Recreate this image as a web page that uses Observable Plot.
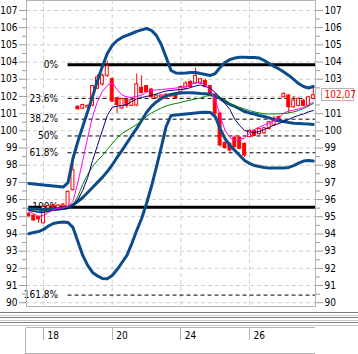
<!DOCTYPE html>
<html><head><meta charset="utf-8">
<script src="https://cdn.jsdelivr.net/npm/d3@7"></script>
<script src="https://cdn.jsdelivr.net/npm/@observablehq/plot@0.6"></script>
<style>
html,body{margin:0;padding:0;background:#fff;}
#chart svg{display:block;}
</style></head><body><div id="chart"></div>
<script>
// ---- data (bar index 0..58) ----
const open  = [95.18,95.07,95.00,94.62,95.48,95.65,95.50,95.60,95.60,96.55,101.40,101.28,101.35,101.47,102.45,102.70,103.20,103.00,101.90,101.30,101.80,101.45,101.47,102.50,102.60,102.40,101.90,101.95,101.87,102.00,102.10,102.25,102.45,102.85,102.75,102.75,102.90,102.60,102.10,101.00,99.30,99.25,99.60,99.60,99.24,99.63,100.00,99.80,99.85,100.10,100.30,100.80,101.95,102.05,101.37,101.45,101.75,101.45,101.86];
const high  = [95.22,95.10,95.02,95.60,95.70,95.72,95.72,95.78,96.50,98.05,101.45,101.55,101.50,102.65,103.25,103.30,104.05,103.10,101.95,101.90,101.85,101.85,103.30,103.20,102.65,102.45,102.10,102.10,102.15,102.15,102.15,102.60,102.85,102.90,103.65,103.05,103.00,102.65,102.20,101.10,99.35,99.30,99.70,99.65,99.30,100.05,100.05,100.15,100.20,100.55,100.85,100.85,102.20,102.10,102.00,101.90,101.80,102.00,102.54];
const low   = [94.98,94.75,94.62,94.58,95.45,95.42,95.45,95.55,95.55,96.50,101.20,101.25,101.30,101.40,102.40,102.60,103.10,101.65,101.00,101.25,101.30,101.40,101.40,102.15,102.20,101.90,101.85,101.90,101.85,101.95,101.85,102.20,102.40,102.50,102.70,102.70,102.50,102.00,100.80,99.05,98.90,98.75,99.00,98.90,98.45,99.60,99.65,99.75,99.80,100.05,100.25,100.45,101.90,101.00,101.30,101.40,101.40,101.40,101.80];
const close = [95.02,94.78,94.85,95.56,95.62,95.45,95.65,95.70,96.45,97.70,101.25,101.50,101.45,102.60,103.10,103.20,103.75,101.70,101.50,101.85,101.45,101.80,102.70,102.20,102.25,101.95,102.05,102.05,102.10,102.10,101.90,102.55,102.75,102.55,103.20,103.00,102.55,102.15,101.00,99.15,99.00,98.85,99.05,98.95,98.56,100.00,99.70,100.10,100.15,100.50,100.70,100.50,102.15,101.37,101.76,101.86,101.45,101.95,102.07];

const upperBand  = [96.94,96.91,96.88,96.85,96.82,96.79,96.76,96.73,96.99,98.39,99.38,100.25,101.12,102.00,102.93,103.74,104.50,104.96,105.25,105.43,105.55,105.66,105.78,105.87,105.95,105.84,105.55,105.02,104.27,103.51,103.36,103.35,103.36,103.39,103.39,103.33,103.28,103.22,103.33,103.68,103.97,104.15,104.23,104.28,104.28,104.27,104.27,104.23,104.09,103.92,103.74,103.60,103.42,103.22,102.99,102.75,102.58,102.49,102.58];
const middleBand = [95.46,95.45,95.44,95.42,95.42,95.44,95.46,95.49,95.54,95.69,95.89,96.12,96.41,96.70,97.00,97.29,97.63,98.01,98.45,98.86,99.29,99.73,100.14,100.60,101.07,101.42,101.68,101.88,102.03,102.11,102.17,102.20,102.21,102.21,102.20,102.17,102.15,102.11,102.03,101.88,101.68,101.53,101.42,101.27,101.12,101.04,100.98,100.89,100.83,100.75,100.66,100.60,100.54,100.48,100.44,100.43,100.41,100.40,100.37];
const lowerBand  = [94.01,94.09,94.14,94.26,94.46,94.61,94.67,94.70,94.67,94.38,93.56,92.75,92.17,91.76,91.56,91.41,91.39,91.58,91.93,92.34,92.75,93.44,94.20,94.90,95.77,96.76,97.87,99.03,100.25,100.89,100.92,100.95,100.98,101.01,101.04,101.07,101.08,101.07,100.83,100.13,99.55,99.15,98.86,98.56,98.27,98.10,97.98,97.92,97.87,97.83,97.83,97.83,97.84,97.87,97.98,98.12,98.24,98.27,98.24];
const maFast = [95.31,95.19,95.02,95.07,95.25,95.39,95.48,95.51,95.60,95.89,96.99,98.27,99.61,100.83,101.71,102.29,102.64,102.81,102.40,102.08,101.97,101.94,102.00,102.08,102.26,102.35,102.38,102.40,102.43,102.46,102.49,102.52,102.58,102.70,102.81,102.83,102.64,102.38,101.82,100.89,100.02,99.61,99.44,99.50,99.58,99.85,100.08,100.22,100.34,100.46,100.57,100.75,101.04,101.15,101.21,101.27,101.36,101.50,101.68];
const maMid  = [95.37,95.31,95.25,95.25,95.31,95.37,95.42,95.45,95.48,95.66,96.00,96.53,97.28,98.27,99.15,100.02,100.89,101.36,101.44,101.47,101.53,101.71,101.85,101.94,102.00,102.06,102.14,102.23,102.32,102.35,102.38,102.40,102.43,102.52,102.61,102.67,102.58,102.46,102.23,101.94,101.59,101.24,100.66,100.31,100.02,99.93,99.90,99.96,100.08,100.19,100.34,100.42,100.54,100.66,100.80,100.89,100.98,101.10,101.18];
const maSlow = [95.37,95.34,95.31,95.31,95.34,95.37,95.39,95.42,95.48,95.66,96.18,96.88,97.46,97.92,98.27,98.56,98.91,99.26,99.58,99.84,100.02,100.19,100.37,100.57,100.83,101.04,101.18,101.33,101.44,101.53,101.59,101.65,101.73,101.79,101.85,101.91,102.00,102.08,102.06,101.91,101.82,101.59,101.44,101.36,101.27,101.18,101.10,101.04,100.99,100.98,100.98,100.99,101.01,101.04,101.10,101.18,101.30,101.44,101.59];

const dateTickBars   = [3, 17, 31, 45];
const dateTickLabels = ["18", "20", "24", "26"];
const fibRatios = [0, 0.236, 0.382, 0.5, 0.618, 1, 1.618];
const fibLabels = ["0%", "23.6%", "38.2%", "50%", "61.8%", "100%", "161.8%"];
const fibHighPrice = 103.84, fibLowPrice = 95.56, fibStartBar = 8, fibBaseStartBar = 0;
const yTicks = d3.range(90, 108);
const yMinor = d3.range(90.5, 107.5, 1);
const lastPriceLabel = "102,07";

// ---- derived tables ----
const bars = open.map((o, i) => ({i, o, h: high[i], l: low[i], c: close[i], up: close[i] >= o}));
const series = arr => arr.map((v, i) => ({i, v}));
const fib = fibRatios.map((r, k) => ({
  price: fibHighPrice - r * (fibHighPrice - fibLowPrice),
  label: fibLabels[k],
  solid: r === 0 || r === 1,
  start: r === 1 ? fibBaseStartBar : fibStartBar
}));

const FONT = "'Liberation Sans Narrow','DejaVu Sans Condensed','Arial Narrow','Liberation Sans',sans-serif";
const RED = "#ff0000", BAND = "#0d4c8c";
const xDomain = [-0.47, 58.45];

const plot = Plot.plot({
  width: 358, height: 354,
  marginLeft: 26, marginRight: 43, marginTop: 0, marginBottom: 48,
  x: {domain: xDomain, axis: null, label: null},
  y: {domain: [89.78, 107.58], axis: null, label: null},
  style: {fontFamily: FONT, fontSize: "10px", background: "#fff", overflow: "visible"},
  marks: [
    Plot.gridY(yTicks, {stroke: "#cfcfcf", strokeOpacity: 1, strokeDasharray: "4,3"}),
    Plot.gridX(dateTickBars, {stroke: "#cfcfcf", strokeOpacity: 1, strokeDasharray: "4,3"}),
    // fibonacci
    Plot.ruleY(fib.filter(d => !d.solid), {y: "price", x1: "start", x2: xDomain[1], stroke: "#000", strokeWidth: 1, strokeDasharray: "4,3"}),
    Plot.ruleY(fib.filter(d => d.solid), {y: "price", x1: "start", x2: xDomain[1], stroke: "#000", strokeWidth: 3}),
    Plot.text(fib, {x: fibStartBar, y: "price", text: "label", textAnchor: "end", dx: -10, fill: "#000", fontSize: 10}),
    // candles
    Plot.ruleX(bars, {x: "i", y1: "l", y2: "h", stroke: RED, strokeWidth: 1}),
    Plot.rect(bars.filter(d => d.up), {x1: d => d.i - 0.3, x2: d => d.i + 0.3, y1: "o", y2: "c", fill: "#fff", stroke: RED, strokeWidth: 1}),
    Plot.rect(bars.filter(d => !d.up), {x1: d => d.i - 0.3, x2: d => d.i + 0.3, y1: "o", y2: "c", fill: RED, stroke: RED, strokeWidth: 1}),
    // bollinger
    Plot.line(series(upperBand), {x: "i", y: "v", stroke: BAND, strokeWidth: 3}),
    Plot.line(series(middleBand), {x: "i", y: "v", stroke: BAND, strokeWidth: 3}),
    Plot.line(series(lowerBand), {x: "i", y: "v", stroke: BAND, strokeWidth: 3}),
    // moving averages
    Plot.line(series(maSlow), {x: "i", y: "v", stroke: "#008000", strokeWidth: 1}),
    Plot.line(series(maMid), {x: "i", y: "v", stroke: "#000080", strokeWidth: 1}),
    Plot.line(series(maFast), {x: "i", y: "v", stroke: "#ff00ff", strokeWidth: 1}),
    Plot.frame({stroke: "#b4b4b4"}),
    // axes
    Plot.axisY({anchor: "left", ticks: yTicks, tickSize: 7, tickPadding: 2, stroke: "#9a9a9a", fill: "#000", fontSize: 10, label: null}),
    Plot.axisY({anchor: "left", ticks: yMinor, tickSize: 4, tickFormat: () => "", stroke: "#9a9a9a", label: null}),
    Plot.axisY({anchor: "right", ticks: yTicks.filter(v => v !== 102), tickSize: 7, tickPadding: 2, stroke: "#9a9a9a", fill: "#000", fontSize: 10, label: null}),
    Plot.axisY({anchor: "right", ticks: yMinor, tickSize: 4, tickFormat: () => "", stroke: "#9a9a9a", label: null}),
    Plot.axisX({anchor: "bottom", ticks: dateTickBars, tickSize: 0, tickPadding: 25, tickFormat: (d, k) => dateTickLabels[k], textAnchor: "start", dx: 4, fill: "#000", fontSize: 10, label: null}),
    // last price label
    Plot.text([bars[bars.length - 1]], {x: xDomain[1], y: "c", text: () => lastPriceLabel, textAnchor: "start", dx: 9, fill: RED, fontSize: 10})
  ]
});
document.getElementById("chart").appendChild(plot);

// ---- chrome: splitter, date strip, price box ----
const svg = d3.select(plot);
const sx = plot.scale("x"), sy = plot.scale("y");
const left = 25.5, right = 314.5;
const g = svg.append("g").attr("shape-rendering", "crispEdges");
[[312.5, "#808080"], [315, "#c8c8c8"], [317.5, "#808080"], [320, "#c8c8c8"], [322.5, "#808080"], [325, "#c8c8c8"]].forEach(([y, c]) =>
  g.append("line").attr("x1", 0).attr("x2", 358).attr("y1", y).attr("y2", y).attr("stroke", c));
g.append("line").attr("x1", left).attr("x2", right).attr("y1", 327.5).attr("y2", 327.5).attr("stroke", "#b4b4b4");
g.append("line").attr("x1", left).attr("x2", right).attr("y1", 353.5).attr("y2", 353.5).attr("stroke", "#b4b4b4");
g.append("line").attr("x1", left).attr("x2", left).attr("y1", 327.5).attr("y2", 354).attr("stroke", "#b4b4b4");
dateTickBars.forEach(b => {
  const x = Math.round(sx.apply(b)) + 0.5;
  g.append("line").attr("x1", x).attr("x2", x).attr("y1", 327.5).attr("y2", 340).attr("stroke", "#b4b4b4");
});
const py = Math.round(sy.apply(close[close.length - 1]));
g.append("rect").attr("x", right + 6.5).attr("y", py - 6.5).attr("width", 32).attr("height", 12).attr("fill", "#fff").attr("stroke", "#b4b4b4");
g.raise();
svg.selectAll("text").filter(function(){ return this.textContent === lastPriceLabel; }).each(function(){ this.parentNode.parentNode.appendChild(this.parentNode); });
</script></body></html>
